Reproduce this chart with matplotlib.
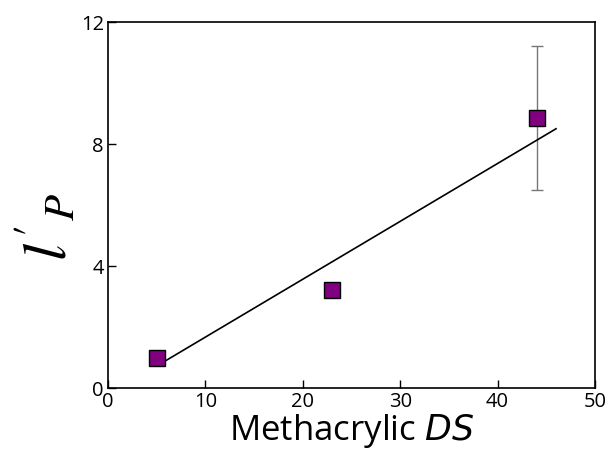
import matplotlib
matplotlib.use("Agg")
import matplotlib.pyplot as plt

# data
ds = [5, 23, 44]
lp = [1.0, 3.2, 8.85]
lp_err = [0, 0, 2.35]
fit_x = [5, 46]
fit_y = [0.72, 8.5]

plt.rcParams['font.family'] = ['Open Sans', 'DejaVu Sans']

fig = plt.figure(figsize=(6.11, 4.72), dpi=100)
ax = fig.add_axes([108 / 611, 1 - 388 / 472, (595 - 108) / 611, (388 - 22) / 472])

ax.plot(fit_x, fit_y, color='black', lw=1.2, zorder=2)
ax.errorbar(ds, lp, yerr=lp_err, fmt='none', ecolor='#777777', elinewidth=1,
            capsize=4, capthick=1, zorder=1)
ax.plot(ds, lp, 's', color='#800080', mec='black', mew=1, ms=11.5, zorder=3)

ax.set_xlim(0, 50)
ax.set_ylim(0, 12)
ax.set_xticks([0, 10, 20, 30, 40, 50])
ax.set_yticks([0, 4, 8, 12])
ax.tick_params(direction='in', length=6, width=1, labelsize=14.5, pad=3,
               top=False, right=False)
for s in ax.spines.values():
    s.set_linewidth(1.2)

ax.set_xlabel('Methacrylic $\\mathit{DS}$', fontsize=25, labelpad=0)
fig.text(0.08, 0.52, "$\\mathit{l}'_{\\mathit{P}}$", rotation=90, fontsize=44,
         ha='center', va='center', math_fontfamily='stix')

fig.savefig('out.png', dpi=100)
